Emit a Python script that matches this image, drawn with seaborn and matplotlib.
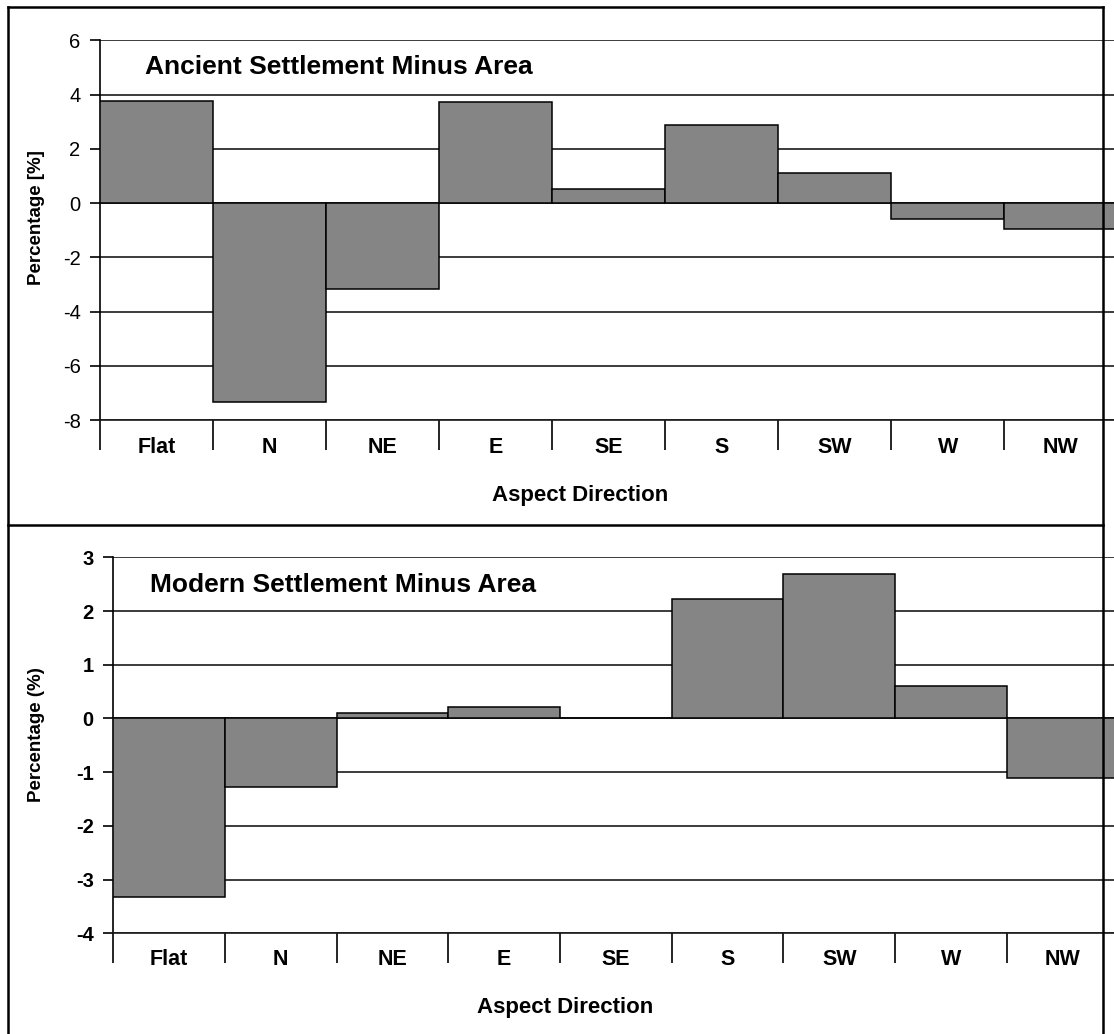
import numpy as np
import pandas as pd
import matplotlib
matplotlib.use("Agg")
import matplotlib.pyplot as plt
import seaborn as sns
from matplotlib.lines import Line2D

categories = ["Flat", "N", "NE", "E", "SE", "S", "SW", "W", "NW"]
ancient_values = [3.77, -7.32, -3.17, 3.71, 0.53, 2.89, 1.12, -0.59, -0.96]
modern_values = [-3.32, -1.28, 0.10, 0.21, 0.0, 2.22, 2.69, 0.61, -1.11]
ancient_yticks = [-8, -6, -4, -2, 0, 2, 4, 6]
modern_yticks = [-4, -3, -2, -1, 0, 1, 2, 3]
ancient_title = "Ancient Settlement Minus Area"
modern_title = "Modern Settlement Minus Area"
ancient_ylabel = "Percentage [%]"
modern_ylabel = "Percentage (%)"
xlabel = "Aspect Direction"

sns.set_style("white")
plt.rcParams["font.family"] = ["Liberation Sans", "DejaVu Sans"]
plt.rcParams["text.color"] = "black"
plt.rcParams["axes.labelcolor"] = "black"
plt.rcParams["xtick.color"] = "black"
plt.rcParams["ytick.color"] = "black"

W, H = 1114, 1034
fig = plt.figure(figsize=(W / 100, H / 100), dpi=100)
fig.patch.set_facecolor("white")


def px_axes(left, right, top, bottom):
    return [left / W, 1 - bottom / H, (right - left) / W, (bottom - top) / H]


BAR_COLOR = "#858585"


def draw_panel(rect, values, yticks, title, ylabel, title_xy, ylab_coords, xlab_coords,
               tick_weight, xtick_pad):
    ax = fig.add_axes(rect)
    df = pd.DataFrame({"cat": categories, "val": values})
    sns.barplot(data=df, x="cat", y="val", order=categories, ax=ax, color=BAR_COLOR,
                saturation=1, width=1.0, edgecolor="black", linewidth=1.1, zorder=3)
    ax.set_xlim(-0.5, len(categories) - 0.5)
    ax.set_ylim(yticks[0], yticks[-1])
    ax.set_yticks(yticks)
    ax.set_yticklabels([str(t) for t in yticks], fontsize=14.5, fontweight=tick_weight,
                       color="black")
    ax.yaxis.grid(True, color="#1a1a1a", linewidth=1.2, zorder=0)
    ax.xaxis.grid(False)
    ax.set_axisbelow(True)
    ax.set_xticks(np.arange(-0.5, len(categories), 1.0))
    ax.set_xticklabels([])
    ax.set_xticks(np.arange(len(categories)), minor=True)
    ax.set_xticklabels(categories, minor=True, fontsize=15.5, fontweight="bold",
                       color="black")
    ax.tick_params(axis="x", which="major", direction="out", length=21.5, width=1.2,
                   color="black", bottom=True)
    ax.tick_params(axis="x", which="minor", length=0, pad=xtick_pad, bottom=True)
    ax.tick_params(axis="y", direction="out", length=7, width=1.2, color="black",
                   left=True, pad=7)
    for s in ["top", "right"]:
        ax.spines[s].set_visible(False)
    ax.spines["left"].set_color("black")
    ax.spines["left"].set_linewidth(1.2)
    ax.spines["bottom"].set_color("#1a1a1a")
    ax.spines["bottom"].set_linewidth(1.2)
    ax.set_ylabel(ylabel, fontsize=13.5, fontweight="bold", color="black")
    ax.yaxis.set_label_coords(*ylab_coords)
    ax.set_xlabel(xlabel, fontsize=16, fontweight="bold", va="top", color="black")
    ax.xaxis.set_label_coords(*xlab_coords)
    ax.text(title_xy[0], title_xy[1], title, transform=ax.transAxes, fontsize=19,
            fontweight="bold", ha="left", va="center", zorder=5, color="black")
    return ax


# top panel: x 100..1117.5, y 40.3 (6) .. 420 (-8)
draw_panel(px_axes(100, 1117.5, 40.3, 420), ancient_values, ancient_yticks,
           ancient_title, ancient_ylabel,
           title_xy=((145 - 100) / 1017.5, (420 - 66.5) / 379.7),
           ylab_coords=((45 - 100) / 1017.5, (420 - 218) / 379.7),
           xlab_coords=((580 - 100) / 1017.5, -(485 - 420) / 379.7),
           tick_weight="normal", xtick_pad=12)

# bottom panel: x 113.3..1118.4, y 557.3 (3) .. 933.3 (-4)
draw_panel(px_axes(113.3, 1118.4, 557.3, 933.3), modern_values, modern_yticks,
           modern_title, modern_ylabel,
           title_xy=((150 - 113.3) / 1005.1, (933.3 - 585) / 376),
           ylab_coords=((45 - 113.3) / 1005.1, (933.3 - 735) / 376),
           xlab_coords=((565 - 113.3) / 1005.1, -(997 - 933.3) / 376),
           tick_weight="bold", xtick_pad=11)


def fline(x0, y0, x1, y1):
    fig.add_artist(Line2D([x0 / W, x1 / W], [1 - y0 / H, 1 - y1 / H], color="black",
                          linewidth=1.8, zorder=10, solid_capstyle="projecting"))

fline(8, 7, 1103, 7)
fline(8, 525, 1103, 525)
fline(8, 7, 8, H + 5)
fline(1103, 7, 1103, H + 5)

fig.savefig("out.png", dpi=100, facecolor="white")
